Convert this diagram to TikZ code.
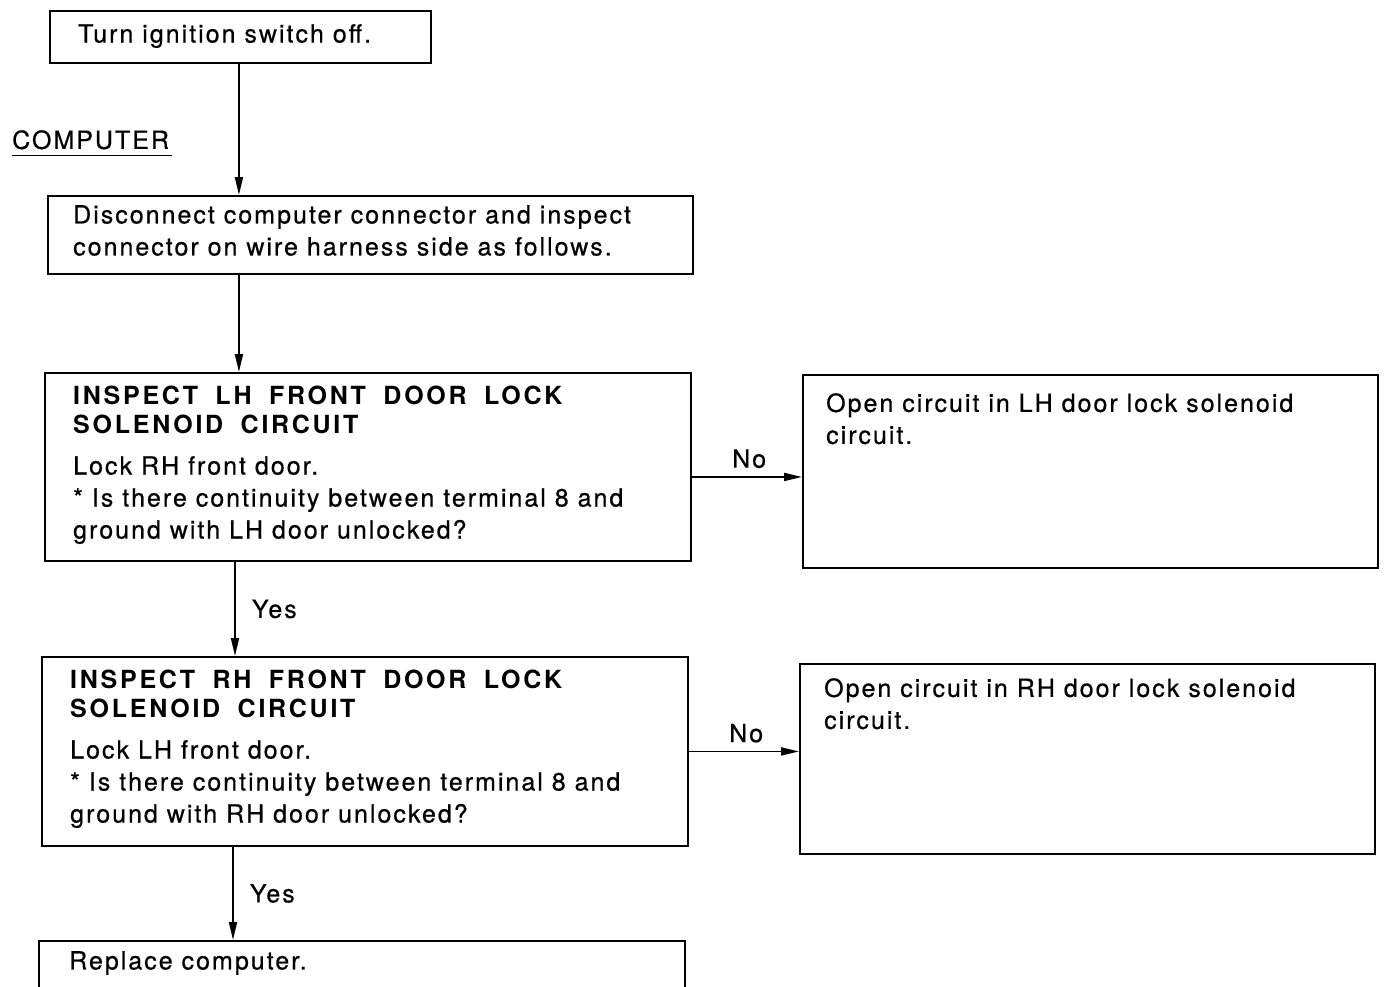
\documentclass[tikz,border=0pt]{standalone}
\usepackage{fontspec}
\setmainfont{TeX Gyre Heros}[LetterSpace=8,FakeBold=0.6]
\newfontfamily\headfont{TeX Gyre Heros}[LetterSpace=11,WordSpace=1.8]
\usetikzlibrary{arrows.meta}
\tikzset{
  box/.style={draw, line width=1.9pt, rectangle, inner sep=0pt, anchor=north west},
  txt/.style={inner sep=0pt, anchor=north west, align=left, font=\fontsize{25}{32}\selectfont},
  head/.style={inner sep=0pt, anchor=north west, align=left, font=\headfont\bfseries\fontsize{25}{29}\selectfont},
  lbl/.style={inner sep=0pt, anchor=center, font=\fontsize{25}{30}\selectfont},
  arr/.style={line width=1.9pt, -{Triangle[length=18pt,width=8pt]}}
}
\begin{document}
\begin{tikzpicture}[x=1pt,y=-1pt]
\clip (0,0) rectangle (1385,986);
\fill[white] (0,0) rectangle (1385,986);
% boxes
\node[box, minimum width=381pt, minimum height=52pt] (b1) at (49,10) {};
\node[box, minimum width=645pt, minimum height=78pt] (b2) at (47,195) {};
\node[box, minimum width=646pt, minimum height=188pt] (b3) at (44,372) {};
\node[box, minimum width=575pt, minimum height=193pt] (b4) at (802,374) {};
\node[box, minimum width=646pt, minimum height=189pt] (b5) at (41,656) {};
\node[box, minimum width=575pt, minimum height=190pt] (b6) at (799,663) {};
\node[box, minimum width=646pt, minimum height=80pt] (b7) at (38,940) {};
% texts
\node[txt] (t1) at (78,24) {Turn ignition switch off.};
\node[txt] (comp) at (12,130) {COMPUTER};
\draw[line width=1.6pt] (comp.south west) ++(0,6) coordinate (u1) -- ([xshift=3pt]u1 -| comp.south east);
\node[txt] (t2) at (73,205) {Disconnect computer connector and inspect\\connector on wire harness side as follows.};
\node[head] (h3) at (73,386) {INSPECT LH FRONT DOOR LOCK\\SOLENOID CIRCUIT};
\node[txt] (t3) at (73,456) {Lock RH front door.\\* Is there continuity between terminal 8 and\\ground with LH door unlocked?};
\node[txt] (t4) at (826,393) {Open circuit in LH door lock solenoid\\circuit.};
\node[head] (h5) at (70,670) {INSPECT RH FRONT DOOR LOCK\\SOLENOID CIRCUIT};
\node[txt] (t5) at (70,740) {Lock LH front door.\\* Is there continuity between terminal 8 and\\ground with RH door unlocked?};
\node[txt] (t6) at (824,678) {Open circuit in RH door lock solenoid\\circuit.};
\node[txt] (t7) at (69,951) {Replace computer.};
% connectors
\draw[arr] ([xshift=-1.5pt]b1.south) -- ([xshift=-1.5pt]b1.south |- b2.north);
\draw[arr] ([xshift=-1.5pt]b1.south |- b2.south) -- ([xshift=-1.5pt]b1.south |- b3.north);
\draw[arr] ([yshift=-10pt]b3.east) -- ([yshift=-10pt]b3.east -| b4.west) node[lbl, pos=0.52, above=8pt] (no1) {No};
\draw[arr] ([xshift=191pt]b3.south west) -- ([xshift=191pt]b3.south west |- b5.north) node[lbl, pos=0.5, right=16pt] (yes1) {Yes};
\draw[arr] (b5.east) -- (b5.east -| b6.west) node[lbl, pos=0.52, above=8pt] (no2) {No};
\draw[arr] ([xshift=192pt]b5.south west) -- ([xshift=192pt]b5.south west |- b7.north) node[lbl, pos=0.5, right=16pt] (yes2) {Yes};
\end{tikzpicture}
\end{document}
